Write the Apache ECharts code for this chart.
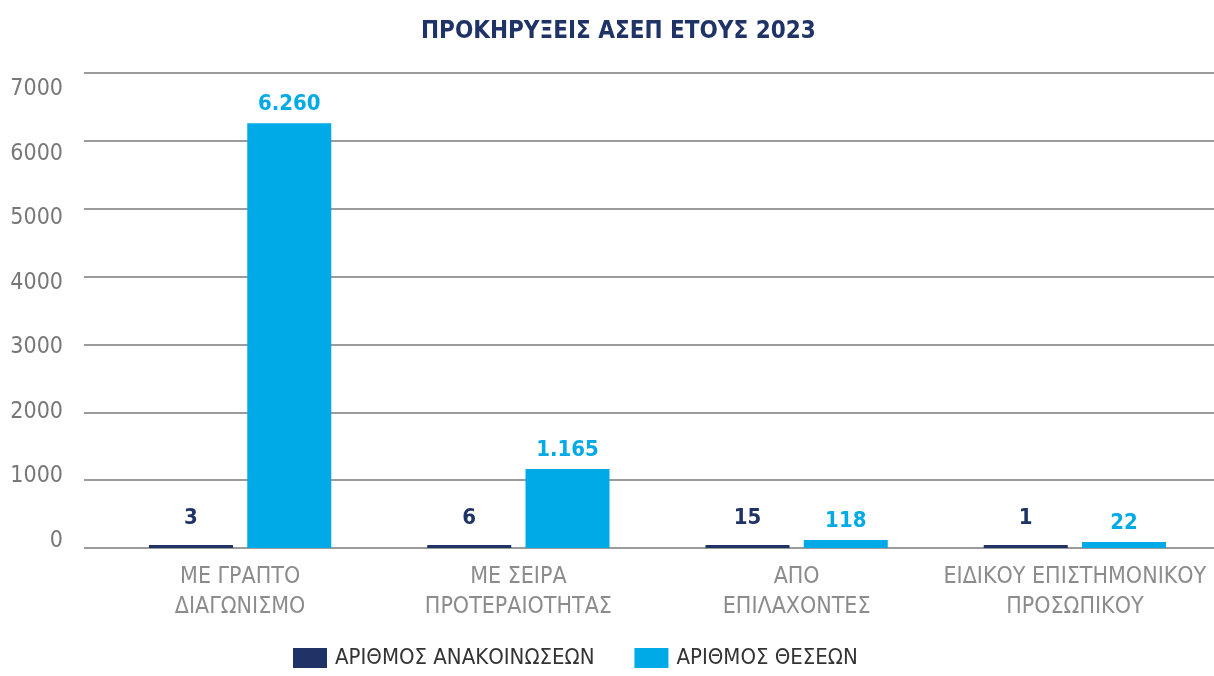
<!DOCTYPE html>
<html>
<head>
<meta charset="utf-8">
<script src="https://cdn.jsdelivr.net/npm/echarts@6/dist/echarts.min.js"></script>
<style>
	html, body { margin: 0; padding: 0; background: #fff; }
	#chart { width: 1214px; height: 676px; }
</style>
</head>
<body>
<div id="chart"></div>
<script>
// δεδομένα
const categories = ['ΜΕ ΓΡΑΠΤΟ\nΔΙΑΓΩΝΙΣΜΟ', 'ΜΕ ΣΕΙΡΑ\nΠΡΟΤΕΡΑΙΟΤΗΤΑΣ', 'ΑΠΟ\nΕΠΙΛΑΧΟΝΤΕΣ', 'ΕΙΔΙΚΟΥ ΕΠΙΣΤΗΜΟΝΙΚΟΥ\nΠΡΟΣΩΠΙΚΟΥ']
const announcements = [3, 6, 15, 1]
const positions = [6260, 1165, 118, 22]
const seriesNames = ['ΑΡΙΘΜΟΣ ΑΝΑΚΟΙΝΩΣΕΩΝ', 'ΑΡΙΘΜΟΣ ΘΕΣΕΩΝ']
const yMin = 0
const yMax = 7000
const yStep = 1000

const FONT = "'DejaVu Sans Condensed', 'Liberation Sans Narrow', 'Roboto', sans-serif"
const NAVY = '#1f3366'
const BLUE = '#00aae6'

// 6260 -> 6.260
function fmt (v) {
	return String(v).replace(/\B(?=(\d{3})+(?!\d))/g, '.')
}

let chart = echarts.init(document.getElementById('chart'))
chart.setOption({
	title: {
		text: 'ΠΡΟΚΗΡΥΞΕΙΣ ΑΣΕΠ ΕΤΟΥΣ 2023',
		left: 416,
		top: 15,
		textStyle: { color: NAVY, fontSize: 24, fontWeight: 'bold', fontFamily: FONT }
	},
	legend: {
		bottom: 2,
		left: 288,
		itemWidth: 34,
		itemHeight: 20,
		itemGap: 40,
		icon: 'rect',
		textStyle: { color: '#333', fontSize: 22, fontFamily: FONT, padding: [0, 0, 0, 3] },
		data: seriesNames
	},
	grid: [
		// γραμμές πλέγματος
		{ left: 84, right: 0, top: 73, bottom: 128 },
		// μπάρες
		{ left: 101, right: 0, top: 73, bottom: 128 },
		// ετικέτες άξονα y
		{ left: 84, right: 0, top: 89, bottom: 135 }
	],
	xAxis: [
		{ type: 'category', gridIndex: 0, data: categories, show: false },
		{
			type: 'category',
			gridIndex: 1,
			data: categories,
			axisLine: { show: false },
			axisTick: { show: false },
			axisLabel: {
				color: '#8c8c8c',
				fontSize: 23,
				lineHeight: 30,
				margin: 14,
				fontFamily: FONT,
				interval: 0
			}
		},
		{ type: 'category', gridIndex: 2, data: categories, show: false }
	],
	yAxis: [
		{
			type: 'value',
			gridIndex: 0,
			min: yMin,
			max: yMax,
			interval: yStep,
			axisLine: { show: false },
			axisTick: { show: false },
			axisLabel: { show: false },
			splitLine: { lineStyle: { color: '#7a7a7a', width: 1.5 } }
		},
		{
			type: 'value',
			gridIndex: 1,
			min: yMin,
			max: yMax,
			interval: yStep,
			show: false,
			splitLine: { show: false }
		},
		{
			type: 'value',
			gridIndex: 2,
			min: yMin,
			max: yMax,
			interval: yStep,
			axisLine: { show: false },
			axisTick: { show: false },
			splitLine: { show: false },
			axisLabel: {
				color: '#777',
				fontSize: 23,
				margin: 21,
				fontFamily: FONT,
				formatter: v => String(v)
			}
		}
	],
	series: [
		{
			name: seriesNames[0],
			type: 'bar',
			xAxisIndex: 1,
			yAxisIndex: 1,
			data: announcements,
			barWidth: 84,
			barGap: '17%',
			barMinHeight: 3,
			itemStyle: { color: NAVY },
			label: {
				show: true,
				position: 'top',
				distance: 16,
				color: NAVY,
				fontSize: 22,
				fontWeight: 'bold',
				fontFamily: FONT,
				formatter: p => fmt(p.value)
			}
		},
		{
			name: seriesNames[1],
			type: 'bar',
			xAxisIndex: 1,
			yAxisIndex: 1,
			data: positions,
			barWidth: 84,
			barMinHeight: 6,
			itemStyle: { color: BLUE },
			label: {
				show: true,
				position: 'top',
				distance: 8,
				color: BLUE,
				fontSize: 22,
				fontWeight: 'bold',
				fontFamily: FONT,
				formatter: p => fmt(p.value)
			}
		}
	]
})
window.addEventListener('resize', chart.resize)
</script>
</body>
</html>
